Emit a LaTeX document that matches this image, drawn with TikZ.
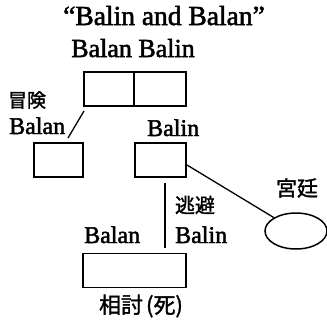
\documentclass[tikz,border=0pt]{standalone}
\usepackage{fontspec}
\setmainfont{Liberation Serif}[FakeBold=2]
\newfontfamily\jp{Noto Sans CJK JP}[FakeBold=1.5]
\usetikzlibrary{shapes.geometric}
\tikzset{
  frame/.style={draw, line width=1.5pt, minimum height=34pt, inner sep=0pt},
  conn/.style={line width=1.3pt},
  lat/.style={inner sep=0pt, font=\fontsize{24}{24}\selectfont},
  cjk/.style={inner sep=0pt, font=\jp\fontsize{19}{19}\selectfont},
}
\begin{document}
\begin{tikzpicture}[x=1pt,y=-1pt]
\useasboundingbox (0,0) rectangle (327,322);
% title and top labels
\node[lat, font=\fontsize{27.5}{27.5}\selectfont, anchor=base] (title) at (164,25) {“Balin and Balan”};
\node[lat, font=\fontsize{26}{26}\selectfont, anchor=base] (top) at (133,57) {Balan Balin};
% top double box
\node[frame, minimum width=50pt] (tl) at (109,89) {};
\node[frame, minimum width=52pt] (tr) at (160,89) {};
% second row
\node[frame, minimum width=49pt] (lb) at (58.5,160) {};
\node[frame, minimum width=51pt] (rb) at (160.5,160) {};
% bottom box
\node[frame, minimum width=103pt] (bb) at (134.5,270.5) {};
% ellipse
\node[draw, ellipse, line width=1.5pt, minimum width=62pt, minimum height=36pt, inner sep=0pt] (ell) at (296,231) {};
% labels
\node[cjk] (adv) at (27,100) {冒険};
\node[lat, anchor=base west] (balanL) at (9,134) {Balan};
\node[lat, anchor=base west] (balinM) at (147,136) {Balin};
\node[cjk, font=\jp\fontsize{21}{21}\selectfont] (court) at (297,188) {宮廷};
\node[cjk, font=\jp\fontsize{20}{20}\selectfont] (flee) at (195,205) {逃避};
\node[lat, anchor=base west] (balanB) at (84,243) {Balan};
\node[lat, anchor=base west] (balinB) at (175,243) {Balin};
\node[cjk, font=\jp\fontsize{22}{22}\selectfont] (death) at (141,306) {相討\hspace{3pt}(死)};
% connectors
\coordinate (s1) at (84,111);
\coordinate (s2) at (68,138);
\draw[conn] (s1) -- (s2);
\coordinate (d1) at (187,165);
\draw[conn] (d1) -- (ell);
\coordinate (v1) at (165,183);
\coordinate (v2) at (165,248);
\draw[conn] (v1) -- (v2);
\end{tikzpicture}
\end{document}
